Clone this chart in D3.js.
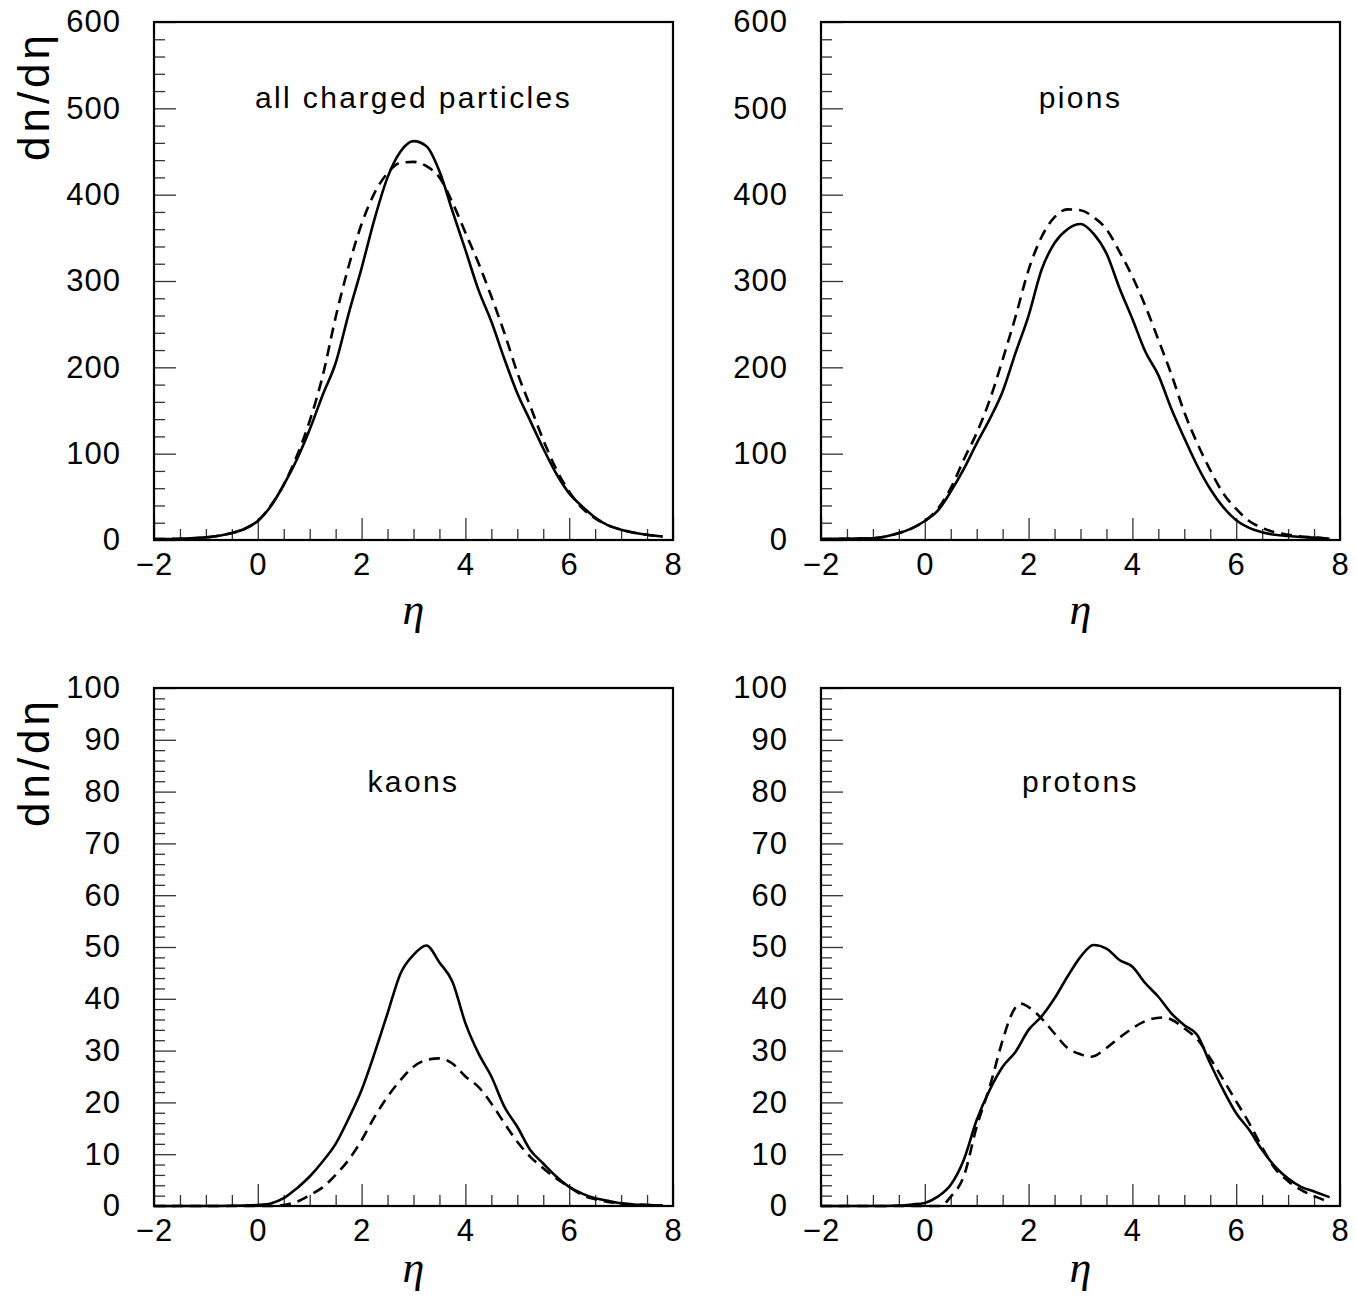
<!DOCTYPE html>
<html>
<head>
<meta charset="utf-8">
<script src="https://cdn.jsdelivr.net/npm/d3@7"></script>
<style>
  html, body { margin: 0; padding: 0; background: #fff; }
  svg { display: block; }
  text { font-family: "Liberation Sans", "DejaVu Sans", sans-serif; fill: #000; }
</style>
</head>
<body>
<svg id="chart" width="1356" height="1298"></svg>
<script>
// ---------------- data ----------------
const xTicks = [-2, 0, 2, 4, 6, 8];
const xTickLabels = ["\u22122", "0", "2", "4", "6", "8"];
const yTicksTop = [0, 100, 200, 300, 400, 500, 600];
const yTicksBottom = [0, 10, 20, 30, 40, 50, 60, 70, 80, 90, 100];
const panelTitles = ["all charged particles", "pions", "kaons", "protons"];

const etaGrid = [-2, -1.5, -1, -0.5, -0.25, 0, 0.25, 0.5, 0.75, 1, 1.25, 1.5, 1.75, 2, 2.25, 2.5, 2.75, 3, 3.25, 3.5, 3.75, 4, 4.25, 4.5, 4.75, 5, 5.25, 5.5, 5.75, 6, 6.25, 6.5, 6.75, 7, 7.25, 7.5, 7.8];

const allSolid  = [1, 1.5, 3, 8, 13, 22, 39, 64, 93, 128, 168, 205, 262, 315, 372, 420, 450, 462, 456, 427, 381, 336, 290, 253, 210, 170, 138, 106, 77, 54, 39, 26, 17, 12, 8.5, 6, 4];
const allDashed = [1, 1.5, 3, 8, 13, 22, 40, 64, 97, 138, 190, 258, 317, 366, 402, 425, 437, 438, 433, 420, 391, 356, 321, 282, 240, 194, 155, 116, 82, 56, 37, 25, 17, 12, 8.5, 6, 4];

const pionSolid  = [1, 1.5, 2, 8, 13.5, 22, 34, 56, 82, 112, 140, 172, 217, 260, 313, 344, 360, 366, 355, 332, 292, 256, 218, 191, 152, 118, 86, 59, 38, 23, 14, 9, 6, 4.6, 3.5, 2.7, 1.5];
const pionDashed = [1, 1.5, 2, 8, 13.5, 22, 36, 60, 93, 124, 162, 209, 259, 313, 351, 374, 383, 382, 374, 360, 334, 305, 271, 232, 192, 148, 112, 81, 54, 36, 22, 14, 9, 6, 4, 3, 1.5];

const kaonSolid  = [0, 0, 0, 0.05, 0.1, 0.2, 0.5, 1.5, 3.4, 5.7, 8.6, 12, 16.9, 22.4, 29.5, 37.2, 44.9, 48.5, 50.3, 47, 43.3, 35.3, 29.5, 25, 19.2, 15.3, 10.8, 8.2, 5.7, 3.7, 2.4, 1.5, 1, 0.5, 0.3, 0.2, 0.1];
const kaonDashed = [0, 0, 0, 0, 0, 0, 0, 0.2, 0.8, 2.1, 3.6, 6, 8.9, 12.7, 17.2, 21.1, 24.3, 26.9, 28.2, 28.5, 27.5, 25, 23, 19.8, 16, 12.4, 9.5, 7.3, 5.3, 3.7, 2.1, 1.3, 0.8, 0.5, 0.3, 0.2, 0.1];

const protonSolid = [0, 0, 0, 0.1, 0.3, 0.6, 1.8, 4.1, 8.9, 16.6, 22.4, 26.9, 29.8, 34, 36.6, 40.1, 44.3, 48.1, 50.4, 49.7, 47.5, 46.2, 43, 40.4, 37.2, 34.9, 33, 27.5, 22.4, 17.9, 14.7, 10.8, 7.6, 5.3, 3.7, 2.8, 1.7];
const protonDashedEta = [-2, -1, 0, 0.3, 0.5, 0.75, 1, 1.25, 1.5, 1.65, 1.85, 2, 2.25, 2.5, 2.75, 3, 3.2, 3.5, 3.75, 4, 4.25, 4.6, 4.75, 5, 5.25, 5.5, 5.75, 6, 6.25, 6.5, 6.75, 7, 7.25, 7.5, 7.8];
const protonDashed    = [0, 0, 0, 0, 1.8, 5.7, 15.3, 23, 32, 36.5, 39.1, 38.4, 36.2, 33.3, 30.5, 29.3, 28.8, 30.5, 32.5, 34.3, 35.7, 36.4, 36, 34.3, 32.2, 28.5, 24.4, 20.2, 16, 11.3, 7.2, 4.8, 3.1, 1.9, 0.8];

// ---------------- layout ----------------
const panels = [
  { title: panelTitles[0], left: 154, right: 673, top: 22, bottom: 540, yMax: 600, yTicks: yTicksTop, yMinor: 20, titleY: 108, etaY: 624, ylabel: true,
    series: [{ x: etaGrid, y: allSolid, dashed: false }, { x: etaGrid, y: allDashed, dashed: true }] },
  { title: panelTitles[1], left: 821, right: 1340, top: 22, bottom: 540, yMax: 600, yTicks: yTicksTop, yMinor: 20, titleY: 108, etaY: 624, ylabel: false,
    series: [{ x: etaGrid, y: pionSolid, dashed: false }, { x: etaGrid, y: pionDashed, dashed: true }] },
  { title: panelTitles[2], left: 154, right: 673, top: 688, bottom: 1206, yMax: 100, yTicks: yTicksBottom, yMinor: 2, titleY: 792, etaY: 1282, ylabel: true,
    series: [{ x: etaGrid, y: kaonSolid, dashed: false }, { x: etaGrid, y: kaonDashed, dashed: true }] },
  { title: panelTitles[3], left: 821, right: 1340, top: 688, bottom: 1206, yMax: 100, yTicks: yTicksBottom, yMinor: 2, titleY: 792, etaY: 1282, ylabel: false,
    series: [{ x: etaGrid, y: protonSolid, dashed: false }, { x: protonDashedEta, y: protonDashed, dashed: true }] }
];

const svg = d3.select("#chart");

panels.forEach(p => {
  const x = d3.scaleLinear().domain([-2, 8]).range([p.left, p.right]);
  const y = d3.scaleLinear().domain([0, p.yMax]).range([p.bottom, p.top]);
  const g = svg.append("g");

  const xMinor = d3.range(-2, 8.0001, 0.5).filter(v => !xTicks.some(t => Math.abs(t - v) < 1e-6));
  const yMinorVals = d3.range(0, p.yMax + 1e-6, p.yMinor).filter(v => !p.yTicks.some(t => Math.abs(t - v) < 1e-6));

  const xMinorAxis = d3.axisBottom(x).tickValues(xMinor).tickSizeInner(-11).tickSizeOuter(0).tickFormat("");
  const yMinorAxis = d3.axisLeft(y).tickValues(yMinorVals).tickSizeInner(-11).tickSizeOuter(0).tickFormat("");
  const xMajorAxis = d3.axisBottom(x).tickValues(xTicks).tickSizeInner(-22).tickSizeOuter(0).tickPadding(13)
    .tickFormat((d, i) => xTickLabels[i]);
  const yMajorAxis = d3.axisLeft(y).tickValues(p.yTicks).tickSizeInner(-22).tickSizeOuter(0).tickPadding(33)
    .tickFormat(d3.format("d"));

  [xMinorAxis, xMajorAxis].forEach(ax => {
    g.append("g").attr("transform", `translate(0,${p.bottom})`).call(ax);
  });
  [yMinorAxis, yMajorAxis].forEach(ax => {
    g.append("g").attr("transform", `translate(${p.left},0)`).call(ax);
  });
  g.selectAll(".domain").remove();
  g.selectAll(".tick line").attr("stroke", "#333").attr("stroke-width", 1.3);
  g.selectAll(".tick text").attr("font-size", 31).attr("fill", "#000")
    .style("letter-spacing", "1px")
    .style("font-family", '"Liberation Sans", "DejaVu Sans", sans-serif');

  p.series.forEach(s => {
    const pts = s.x.map((v, i) => [v, s.y[i]]);
    const line = d3.line().x(d => x(d[0])).y(d => y(d[1])).curve(d3.curveMonotoneX);
    g.append("path")
      .attr("d", line(pts))
      .attr("fill", "none")
      .attr("stroke", "#000")
      .attr("stroke-width", 2.6)
      .attr("stroke-linejoin", "round")
      .attr("stroke-dasharray", s.dashed ? "11,7" : null);
  });

  g.append("rect")
    .attr("x", p.left).attr("y", p.top)
    .attr("width", p.right - p.left).attr("height", p.bottom - p.top)
    .attr("fill", "none").attr("stroke", "#000").attr("stroke-width", 2.2);

  g.append("text")
    .attr("x", (p.left + p.right) / 2).attr("y", p.titleY)
    .attr("text-anchor", "middle")
    .attr("font-size", 30)
    .style("letter-spacing", "2.4px")
    .text(p.title);

  g.append("text")
    .attr("x", (p.left + p.right) / 2).attr("y", p.etaY)
    .attr("text-anchor", "middle")
    .attr("font-size", 44)
    .attr("font-style", "italic")
    .style("font-family", '"Liberation Serif", "DejaVu Serif", serif')
    .text("\u03b7");

  if (p.ylabel) {
    const cy = p.top + 74;
    const t = g.append("text")
      .attr("transform", `translate(49,${cy}) rotate(-90)`)
      .attr("text-anchor", "middle")
      .attr("font-size", 44)
      .style("letter-spacing", "4px");
    t.append("tspan").text("dn/d");
    t.append("tspan").text("\u03b7");
  }
});
</script>
</body>
</html>
